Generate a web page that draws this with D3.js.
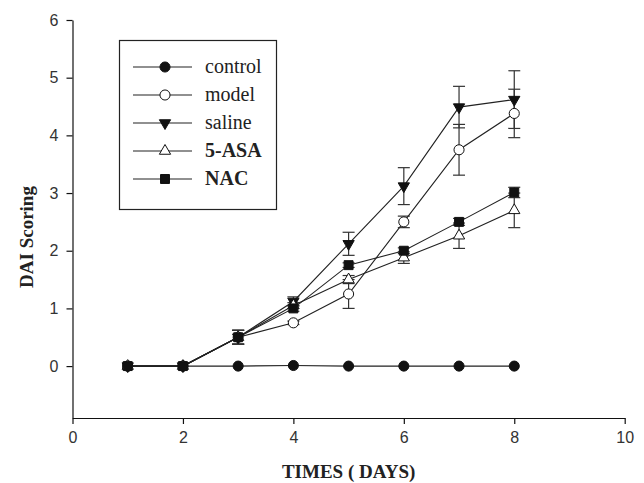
<!DOCTYPE html>
<html>
<head>
<meta charset="utf-8">
<script src="https://cdn.jsdelivr.net/npm/d3@7"></script>
<style>
  body { margin: 0; background: #fff; }
  svg { display: block; }
</style>
</head>
<body>
<svg id="chart" width="644" height="483"></svg>
<script>
// values
const days = [1, 2, 3, 4, 5, 6, 7, 8];
const control = [0, 0, 0, 0.01, 0, 0, 0, 0];
const model = [0, 0, 0.5, 0.75, 1.25, 2.5, 3.75, 4.38];
const modelErr = [0, 0, 0.12, 0.03, 0.25, 0.1, 0.44, 0.42];
const saline = [0, 0, 0.5, 1.12, 2.12, 3.12, 4.49, 4.62];
const salineErr = [0, 0, 0.12, 0.08, 0.2, 0.32, 0.36, 0.5];
const asa = [0, 0, 0.5, 1.05, 1.5, 1.88, 2.26, 2.7];
const asaErr = [0, 0, 0.12, 0.05, 0.07, 0.1, 0.22, 0.3];
const nac = [0, 0, 0.5, 1.0, 1.75, 2.0, 2.5, 3.01];
const nacErr = [0, 0, 0.12, 0.05, 0.04, 0.05, 0.06, 0.09];

const xTicks = [0, 2, 4, 6, 8, 10];
const yTicks = [0, 1, 2, 3, 4, 5, 6];

const series = [
  { name: "control", values: control, err: null, shape: d3.symbolCircle, size: 80, fill: "#111", rot: 0, bold: false },
  { name: "model", values: model, err: modelErr, shape: d3.symbolCircle, size: 80, fill: "#fff", rot: 0, bold: false },
  { name: "saline", values: saline, err: salineErr, shape: d3.symbolTriangle, size: 55, fill: "#111", rot: 180, bold: false },
  { name: "5-ASA", values: asa, err: asaErr, shape: d3.symbolTriangle, size: 55, fill: "#fff", rot: 0, bold: true },
  { name: "NAC", values: nac, err: nacErr, shape: d3.symbolSquare, size: 80, fill: "#111", rot: 0, bold: true }
];

const svg = d3.select("#chart");

const x = d3.scaleLinear().domain([0, 10]).range([72.5, 624.7]);
const y = d3.scaleLinear().domain([-0.9, 6]).range([418, 20]);

// axes
const xAxis = svg.append("g")
  .attr("transform", `translate(0,${y(-0.9)})`)
  .call(d3.axisBottom(x).tickValues(xTicks).tickFormat(d3.format("d"))
    .tickSize(6).tickSizeOuter(0).tickPadding(8));

const yAxis = svg.append("g")
  .attr("transform", `translate(${x(0)},0)`)
  .call(d3.axisLeft(y).tickValues(yTicks).tickFormat(d3.format("d"))
    .tickSize(6).tickSizeOuter(0).tickPadding(8));

[xAxis, yAxis].forEach(g => {
  g.select(".domain").attr("stroke", "#111").attr("stroke-width", 1.2);
  g.selectAll(".tick line").attr("stroke", "#111").attr("stroke-width", 1.2);
  g.selectAll(".tick text")
    .attr("fill", "#333")
    .style("font-family", "Liberation Sans, Arial, sans-serif")
    .style("font-size", "16px");
});

svg.append("text")
  .attr("x", (x(0) + x(10)) / 2)
  .attr("y", 478)
  .attr("text-anchor", "middle")
  .style("font-family", "Liberation Serif, Times New Roman, serif")
  .style("font-weight", "bold")
  .style("font-size", "19px")
  .attr("fill", "#222")
  .text("TIMES ( DAYS)");

svg.append("text")
  .attr("transform", "translate(33,237) rotate(-90)")
  .attr("text-anchor", "middle")
  .style("font-family", "Liberation Serif, Times New Roman, serif")
  .style("font-weight", "bold")
  .style("font-size", "19px")
  .attr("fill", "#222")
  .text("DAI Scoring");

const line = d3.line()
  .x((d, i) => x(days[i]))
  .y(d => y(d));

const sym = d3.symbol();

// error bars
series.filter(s => s.err).forEach(s => {
  const g = svg.append("g").attr("stroke", "#333").attr("stroke-width", 1.2);
  s.values.forEach((v, i) => {
    const e = s.err[i];
    if (!e) return;
    const cx = x(days[i]);
    g.append("line").attr("x1", cx).attr("x2", cx).attr("y1", y(v - e)).attr("y2", y(v + e));
    [v - e, v + e].forEach(w => {
      g.append("line").attr("x1", cx - 6).attr("x2", cx + 6).attr("y1", y(w)).attr("y2", y(w));
    });
  });
});

// lines
series.forEach(s => {
  svg.append("path")
    .datum(s.values)
    .attr("fill", "none")
    .attr("stroke", "#222")
    .attr("stroke-width", 1.1)
    .attr("d", line);
});

// markers
series.forEach(s => {
  svg.append("g").selectAll("path")
    .data(s.values)
    .join("path")
    .attr("transform", (d, i) => `translate(${x(days[i])},${y(d)}) rotate(${s.rot})`)
    .attr("d", sym.type(s.shape).size(s.size)())
    .attr("fill", s.fill)
    .attr("stroke", "#111")
    .attr("stroke-width", 1);
});

// legend
const legend = svg.append("g");
legend.append("rect")
  .attr("x", 119.5).attr("y", 40.5)
  .attr("width", 157).attr("height", 169)
  .attr("fill", "#fff")
  .attr("stroke", "#222")
  .attr("stroke-width", 1.2);

series.forEach((s, i) => {
  const ly = 67 + i * 28;
  legend.append("line")
    .attr("x1", 133).attr("x2", 192)
    .attr("y1", ly).attr("y2", ly)
    .attr("stroke", "#222").attr("stroke-width", 1.1);
  legend.append("path")
    .attr("transform", `translate(165,${ly}) rotate(${s.rot})`)
    .attr("d", sym.type(s.shape).size(s.size)())
    .attr("fill", s.fill)
    .attr("stroke", "#111");
  legend.append("text")
    .attr("x", 205).attr("y", ly + 6)
    .style("font-family", "Liberation Serif, Times New Roman, serif")
    .style("font-size", "20px")
    .style("font-weight", s.bold ? "bold" : "normal")
    .attr("fill", "#222")
    .text(s.name);
});
</script>
</body>
</html>
